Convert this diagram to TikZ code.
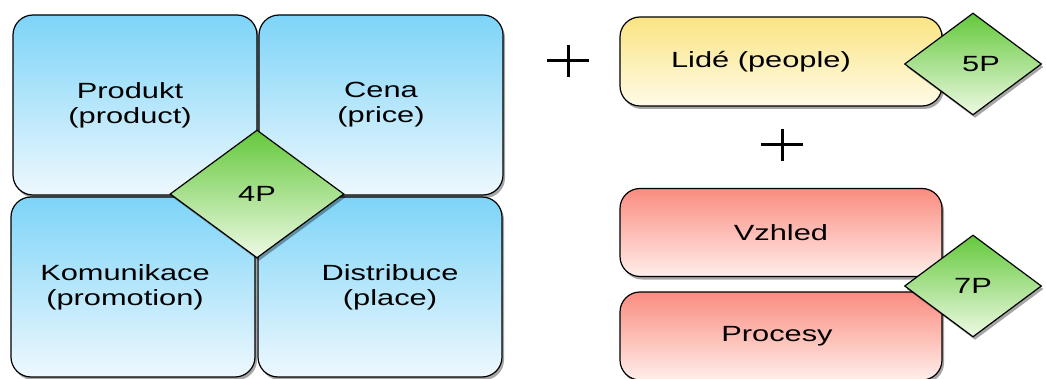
\documentclass[tikz,border=0pt]{standalone}
\usepackage{fontspec}
\setmainfont{Liberation Sans}
\usetikzlibrary{shapes.geometric,shadows}
\newcommand{\sx}[1]{\scalebox{1.4}[1]{#1}}
\definecolor{bluetop}{RGB}{125,212,248}
\definecolor{bluebot}{RGB}{238,248,254}
\definecolor{yeltop}{RGB}{250,228,130}
\definecolor{yelbot}{RGB}{255,251,232}
\definecolor{redtop}{RGB}{250,140,128}
\definecolor{redbot}{RGB}{255,238,234}
\definecolor{grntop}{RGB}{100,200,60}
\definecolor{grnbot}{RGB}{238,250,228}
\tikzset{
  shade/.style={drop shadow={shadow xshift=2pt,shadow yshift=-3pt,opacity=0.35,fill=black}},
  card/.style={draw=black, line width=1.2pt, rounded corners=20pt, inner sep=0pt,
    align=center, font=\fontsize{22}{25}\selectfont, shade},
  bluecard/.style={card, top color=bluetop, bottom color=bluebot, minimum width=244pt, minimum height=180pt},
  yelcard/.style={card, top color=yeltop, bottom color=yelbot, minimum width=322pt, minimum height=89pt},
  redcard/.style={card, top color=redtop, bottom color=redbot, minimum width=322pt, minimum height=88pt},
  pdiamond/.style={diamond, draw=black, line width=1.2pt, inner sep=0pt, top color=grntop, bottom color=grnbot,
    font=\fontsize{22}{25}\selectfont, shade},
  plus/.style={line width=3pt}
}
\begin{document}
\begin{tikzpicture}[x=1pt,y=-1pt]
\useasboundingbox (0,0) rectangle (1046,379);
% 4P group
\node[bluecard] (prod) at (135,105) {\hspace*{-10pt}\sx{Produkt}\\\hspace*{-10pt}\sx{(product)}};
\node[bluecard] (cena) at (381,105) {\sx{Cena}\\\sx{(price)}};
\node[bluecard] (kom) at (133,287) {\hspace*{-16pt}\sx{Komunikace}\\\hspace*{-16pt}\sx{(promotion)}};
\node[bluecard] (dist) at (380,287) {\hspace*{20pt}\sx{Distribuce}\\\hspace*{20pt}\sx{(place)}};
\node[pdiamond, minimum width=174pt, minimum height=128pt] (p4) at (257,194) {\sx{4P}};
% plus signs
\coordinate (pl1) at (568,61);
\draw[plus] ([xshift=-21pt]pl1) -- ([xshift=21pt]pl1) ([yshift=-16pt]pl1) -- ([yshift=16pt]pl1);
\coordinate (pl2) at (782,145);
\draw[plus] ([xshift=-21pt]pl2) -- ([xshift=21pt]pl2) ([yshift=-16pt]pl2) -- ([yshift=16pt]pl2);
% 5P
\node[yelcard] (lide) at (781,61.5) {\hspace*{-40pt}\sx{Lidé (people)}};
\node[pdiamond, minimum width=137pt, minimum height=102pt] (p5) at (973,64) {\hspace*{16pt}\sx{5P}};
% 7P
\node[redcard] (vzh) at (781,232.5) {\sx{Vzhled}};
\node[redcard] (proc) at (781,336) {\hspace*{-8pt}\sx{Procesy}};
\node[pdiamond, minimum width=137pt, minimum height=102pt] (p7) at (973,286) {\sx{7P}};
\end{tikzpicture}
\end{document}
